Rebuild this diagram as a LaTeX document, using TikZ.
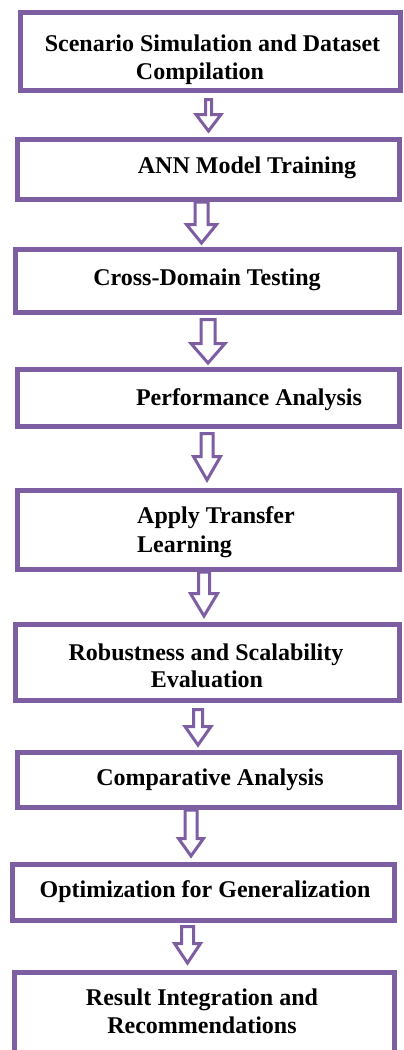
\documentclass[tikz,border=0pt]{standalone}
\usepackage{fontspec}
\setmainfont{Liberation Serif}
\usetikzlibrary{calc}

\definecolor{flowpurple}{RGB}{125,94,162}

\tikzset{
  stepbox/.style={draw=flowpurple, line width=5bp, fill=white, inner sep=0pt, outer sep=2.5bp},
  steptext/.style={font=\bfseries\fontsize{24bp}{28bp}\selectfont, text=black, inner sep=0pt},
  arrowline/.style={draw=flowpurple, fill=white, line width=3bp, line join=miter},
}

% box given by its outer edges: name, left, right, top, bottom (y grows downwards)
\newcommand\flowbox[5]{%
  \node[stepbox, minimum width={(#3-#2-5)*1bp}, minimum height={(#5-#4-5)*1bp}]
    (#1) at ({(#2+#3)/2},{(#4+#5)/2}) {};%
}

% hollow block arrow: from, to, centre x, top gap, bottom gap, head length, shaft half width, head half width
\newcommand\flowarrow[8]{%
  \draw[arrowline] let \p1=(#1.south), \p2=(#2.north) in
    ({(#3-#7)*1bp},{\y1-#4*1bp}) -- ({(#3-#7)*1bp},{\y2+#5*1bp+#6*1bp})
    -- ({(#3-#8)*1bp},{\y2+#5*1bp+#6*1bp}) -- ({#3*1bp},{\y2+#5*1bp})
    -- ({(#3+#8)*1bp},{\y2+#5*1bp+#6*1bp}) -- ({(#3+#7)*1bp},{\y2+#5*1bp+#6*1bp})
    -- ({(#3+#7)*1bp},{\y1-#4*1bp}) -- cycle;%
}

\begin{document}
\begin{tikzpicture}[x=1bp, y=-1bp]
  \useasboundingbox (0,0) rectangle (403,1050);
  \clip (0,0) rectangle (403,1050);

  % process steps
  \flowbox{b1}{18}{403}{10}{93}
  \flowbox{b2}{15}{402}{137}{202}
  \flowbox{b3}{13}{402}{247}{315}
  \flowbox{b4}{15}{402}{367}{429}
  \flowbox{b5}{15}{402}{488}{572}
  \flowbox{b6}{13}{402}{622}{703}
  \flowbox{b7}{15}{402}{750}{810}
  \flowbox{b8}{10}{397}{862}{923}
  \flowbox{b9}{12}{397}{970}{1065}

  % step labels
  \node[steptext, anchor=base] (t1a) at (212.5,51) {Scenario Simulation and Dataset};
  \node[steptext, anchor=base] (t1b) at (200,79) {Compilation};
  \node[steptext, anchor=base] (t2) at (247,173) {ANN Model Training};
  \node[steptext, anchor=base] (t3) at (207,285) {Cross-Domain Testing};
  \node[steptext, anchor=base] (t4) at (249,405) {Performance Analysis};
  \node[steptext, anchor=base west] (t5a) at (137,523) {Apply Transfer};
  \node[steptext, anchor=base west] (t5b) at (137,552) {Learning};
  \node[steptext, anchor=base] (t6a) at (206,660) {Robustness and Scalability};
  \node[steptext, anchor=base] (t6b) at (207,687) {Evaluation};
  \node[steptext, anchor=base] (t7) at (210,785) {Comparative Analysis};
  \node[steptext, anchor=base] (t8) at (205,897) {Optimization for Generalization};
  \node[steptext, anchor=base] (t9a) at (202,1005) {Result Integration and};
  \node[steptext, anchor=base] (t9b) at (202,1033) {Recommendations};

  % connectors
  \flowarrow{b1}{b2}{208.5}{6.5}{6}{16.5}{3}{12.5}
  \flowarrow{b2}{b3}{201.5}{0}{4}{18.5}{6.5}{15}
  \flowarrow{b3}{b4}{208}{4.5}{4}{19.5}{7}{17}
  \flowarrow{b4}{b5}{207}{4.5}{8}{23.5}{6}{13.5}
  \flowarrow{b5}{b6}{204}{0}{6}{22.5}{5.5}{13.5}
  \flowarrow{b6}{b7}{198}{6.5}{5}{18.5}{4.5}{13}
  \flowarrow{b7}{b8}{191}{0}{6}{17.5}{6}{12.5}
  \flowarrow{b8}{b9}{187.5}{3.5}{7}{19.5}{6}{13}
\end{tikzpicture}
\end{document}
